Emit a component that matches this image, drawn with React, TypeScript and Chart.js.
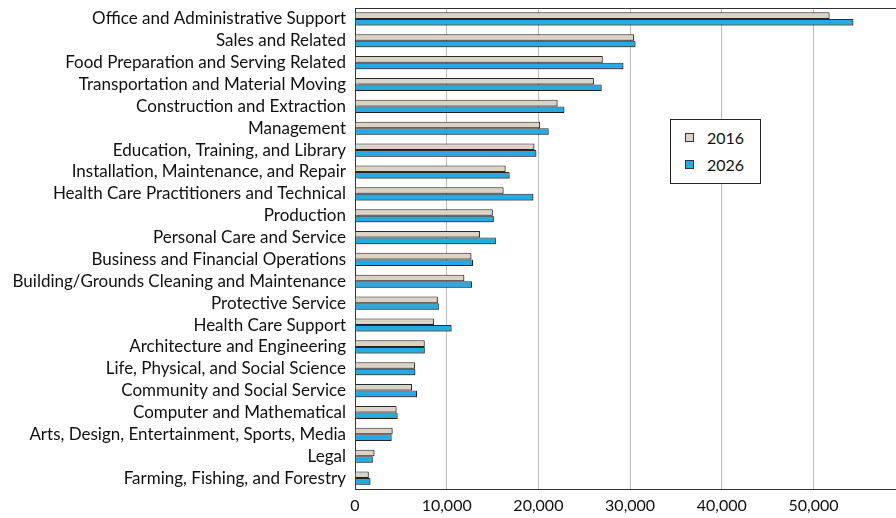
import React, { useEffect, useRef } from "react";
import { Chart, registerables } from "chart.js";

Chart.register(...registerables);

const categories = [
  "Office and Administrative Support",
  "Sales and Related",
  "Food Preparation and Serving Related",
  "Transportation and Material Moving",
  "Construction and Extraction",
  "Management",
  "Education, Training, and Library",
  "Installation, Maintenance, and Repair",
  "Health Care Practitioners and Technical",
  "Production",
  "Personal Care and Service",
  "Business and Financial Operations",
  "Building/Grounds Cleaning and Maintenance",
  "Protective Service",
  "Health Care Support",
  "Architecture and Engineering",
  "Life, Physical, and Social Science",
  "Community and Social Service",
  "Computer and Mathematical",
  "Arts, Design, Entertainment, Sports, Media",
  "Legal",
  "Farming, Fishing, and Forestry",
];

const values2016 = [
  51750, 30440, 27020, 26050, 22090, 20190, 19560, 16420, 16200, 15030, 13640,
  12690, 11920, 9030, 8630, 7600, 6550, 6220, 4530, 4100, 2120, 1500,
];

const values2026 = [
  54350, 30590, 29270, 26900, 22830, 21120, 19780, 16860, 19450, 15140, 15360,
  12870, 12760, 9140, 10530, 7610, 6580, 6760, 4640, 3990, 1940, 1680,
];

const seriesLabels = ["2016", "2026"];
const seriesColors = ["#ddd3c5", "#27a9e1"];
const tickValues = [0, 10000, 20000, 30000, 40000, 50000];
const axisMax = 59000;

const FONT = "Lato, 'Open Sans', sans-serif";

const topBorder = {
  id: "topBorder",
  afterDraw(chart: any) {
    const { ctx, chartArea } = chart;
    ctx.save();
    ctx.strokeStyle = "#333";
    ctx.lineWidth = 1;
    ctx.beginPath();
    ctx.moveTo(chartArea.left, Math.round(chartArea.top) + 0.5);
    ctx.lineTo(chartArea.right, Math.round(chartArea.top) + 0.5);
    ctx.stroke();
    ctx.restore();
  },
};

const barShadow = {
  id: "barShadow",
  beforeDatasetsDraw(chart: any) {
    const ctx = chart.ctx;
    ctx.save();
    ctx.shadowColor = "rgba(0,0,0,0.35)";
    ctx.shadowOffsetX = 1;
    ctx.shadowOffsetY = 1;
    ctx.shadowBlur = 1;
  },
  afterDatasetsDraw(chart: any) {
    chart.ctx.restore();
  },
};

export default function App() {
  const ref = useRef<HTMLCanvasElement>(null);

  useEffect(() => {
    if (!ref.current) return;
    const chart = new Chart(ref.current, {
      type: "bar",
      data: {
        labels: categories,
        datasets: [
          {
            label: seriesLabels[0],
            data: values2016,
            backgroundColor: seriesColors[0],
            borderColor: "#2b2b2b",
            borderWidth: 1,
            categoryPercentage: 0.6,
            barPercentage: 1.0,
          },
          {
            label: seriesLabels[1],
            data: values2026,
            backgroundColor: seriesColors[1],
            borderColor: "#2b2b2b",
            borderWidth: 1,
            categoryPercentage: 0.6,
            barPercentage: 1.0,
          },
        ],
      },
      options: {
        indexAxis: "y",
        responsive: false,
        animation: false,
        layout: { padding: { top: 8, right: 0, bottom: 4, left: 0 } },
        plugins: {
          legend: { display: false },
          tooltip: { enabled: false },
        },
        scales: {
          x: {
            type: "linear",
            min: 0,
            max: axisMax,
            afterBuildTicks: (axis: any) => {
              axis.ticks = tickValues.map((v) => ({ value: v }));
            },
            ticks: {
              autoSkip: false,
              color: "#111",
              font: { family: FONT, size: 16 },
              padding: 7,
              maxRotation: 0,
              minRotation: 0,
              callback: (v: any) => Number(v).toLocaleString("en-US"),
            },
            grid: {
              color: "#bdbdbd",
              lineWidth: 1,
              drawTicks: false,
            },
            border: { display: true, color: "#333", width: 1 },
            afterFit: (scale: any) => {
              scale.paddingLeft = 0;
              scale.paddingRight = 0;
              scale.height = 25;
            },
          },
          y: {
            afterFit: (scale: any) => {
              scale.width = 355;
              scale.paddingTop = 0;
              scale.paddingBottom = 0;
            },
            ticks: {
              color: "#111",
              font: { family: FONT, size: 17 },
              padding: 9,
              autoSkip: false,
            },
            grid: { display: false, drawTicks: false },
            border: { display: true, color: "#333", width: 1 },
          },
        },
      },
      plugins: [barShadow, topBorder],
    } as any);
    return () => chart.destroy();
  }, []);

  const legendItem = (i: number) => (
    <div
      key={i}
      style={{
        display: "flex",
        alignItems: "center",
        height: 27,
      }}
    >
      <span
        style={{
          display: "inline-block",
          width: 7,
          height: 7,
          background: seriesColors[i],
          border: "1px solid #333",
          marginLeft: 14,
          marginRight: 13,
        }}
      />
      <span style={{ fontFamily: FONT, fontSize: 16, color: "#111" }}>
        {seriesLabels[i]}
      </span>
    </div>
  );

  return (
    <div
      style={{
        position: "absolute",
        left: 0,
        top: 0,
        width: 896,
        height: 518,
        overflow: "hidden",
        background: "#fff",
      }}
    >
      <canvas ref={ref} width={896} height={518} style={{ display: "block" }} />
      <div
        style={{
          position: "absolute",
          left: 670,
          top: 119,
          width: 89,
          height: 59,
          border: "1px solid #222",
          background: "#fff",
          boxSizing: "content-box",
          paddingTop: 4,
        }}
      >
        {legendItem(0)}
        {legendItem(1)}
      </div>
    </div>
  );
}
